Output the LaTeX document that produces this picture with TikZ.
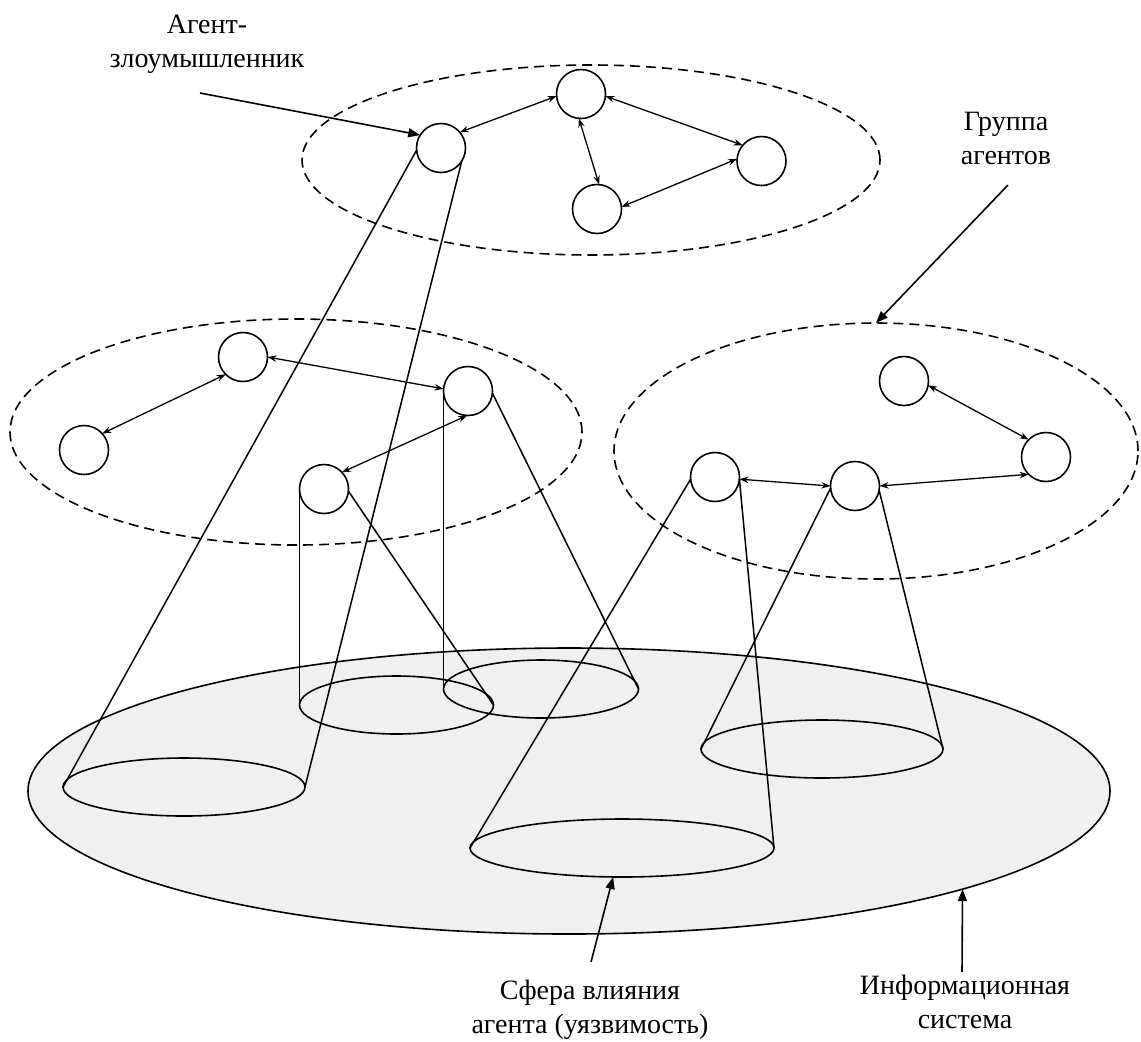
\documentclass[tikz,border=0pt]{standalone}
\usepackage{fontspec}
\setmainfont{Liberation Serif}
\newfontfamily\captionserif{Liberation Serif}
\usetikzlibrary{arrows.meta,shapes.geometric}
\definecolor{plane}{RGB}{240,240,240}
\begin{document}
\begin{tikzpicture}[x=0.5pt,y=-0.5pt,
  agent/.style={circle,draw,fill=white,minimum size=24.5pt,inner sep=0pt,outer sep=0pt,line width=0.8pt},
  group/.style={ellipse,draw,dash pattern=on 5pt off 3pt,inner sep=0pt,outer sep=0pt,line width=0.8pt},
  sphere/.style={ellipse,draw,inner sep=0pt,outer sep=0pt,line width=0.8pt},
  link/.style={{Stealth[length=4.5pt,width=3.2pt]}-{Stealth[length=4.5pt,width=3.2pt]},line width=0.65pt},
  cone/.style={line width=0.75pt},
  pointer/.style={-{Triangle[length=6pt,width=4.5pt]},line width=0.8pt},
  caption/.style={align=center,inner sep=0pt,anchor=north,font=\captionserif\fontsize{14}{17}\selectfont}
]
\useasboundingbox (0,0) rectangle (1141,1041);

% information system plane
\node[sphere,fill=plane,minimum width=541pt,minimum height=143pt] (plane) at (569,791) {};

% spheres of influence on the plane
\node[sphere,minimum width=121pt,minimum height=29pt] (s1) at (184,787) {};
\node[sphere,minimum width=97pt,minimum height=29pt] (s2) at (396.5,705) {};
\node[sphere,minimum width=97.5pt,minimum height=29pt] (s3) at (541,689) {};
\node[sphere,minimum width=152pt,minimum height=29pt] (s4) at (622,848) {};
\node[sphere,minimum width=121pt,minimum height=29pt] (s5) at (822,749) {};

% groups of agents
\node[group,minimum width=289pt,minimum height=95pt] (gTop) at (591,160) {};
\node[group,minimum width=286pt,minimum height=113pt] (gLeft) at (296,432) {};
\node[group,minimum width=262pt,minimum height=128pt] (gRight) at (876,451) {};

% agents
\node[agent] (a1) at (441,148) {};
\node[agent] (a2) at (581,94) {};
\node[agent] (a3) at (761.5,161) {};
\node[agent] (a4) at (597,209) {};
\node[agent] (b1) at (243,357) {};
\node[agent] (b2) at (84,450) {};
\node[agent] (b3) at (468,391) {};
\node[agent] (b4) at (324,489) {};
\node[agent] (c1) at (904,381) {};
\node[agent] (c2) at (1046,457) {};
\node[agent] (c3) at (715,477) {};
\node[agent] (c4) at (855,486) {};

% cones of influence
\draw[cone] (a1.185) -- (s1.west);
\draw[cone] (a1.-32) -- (s1.east);
\draw[cone] (b4.west) -- (s2.west);
\draw[cone] (b4.-5) -- (s2.east);
\draw[cone] (b3.west) -- (s3.west);
\draw[cone] (b3.-5) -- (s3.east);
\draw[cone] (c3.185) -- (s4.west);
\draw[cone] (c3.-5) -- (s4.east);
\draw[cone] (c4.185) -- (s5.west);
\draw[cone] (c4.-10) -- (s5.east);

% links between agents
\draw[link] (a1.40) -- (a2.185);
\draw[link] (a2.-5) -- (a3.140);
\draw[link] (a2.-95) -- (a4.85);
\draw[link] (a4.5) -- (a3.175);
\draw[link] (b1.225) -- (b2.42);
\draw[link] (b1.0) -- (b3.175);
\draw[link] (b3.-92) -- (b4.43);
\draw[link] (c1.-10) -- (c2.135);
\draw[link] (c3.-5) -- (c4.180);
\draw[link] (c4.0) -- (c2.225);

% captions
\node[caption] (capAgent) at (207,9) {\strut Агент-\\злоумышленник};
\node[caption] (capGroup) at (1006,106) {\strut Группа\\агентов};
\node[caption] (capSphere) at (590,975) {\strut Сфера влияния\\агента (уязвимость)};
\node[caption] (capSystem) at (965,970) {\strut Информационная\\система};

% caption pointers
\coordinate (pAgent) at (200,93);
\coordinate (pGroup) at (1008,185);
\coordinate (pSphere) at (591,962);
\coordinate (pSystem) at (962,972);
\draw[pointer] (pAgent) -- (a1.148);
\draw[pointer] (pGroup) -- (gRight.north);
\draw[pointer] (pSphere) -- (s4.-107);
\draw[pointer] (pSystem) -- (plane.-14.3);
\end{tikzpicture}
\end{document}
